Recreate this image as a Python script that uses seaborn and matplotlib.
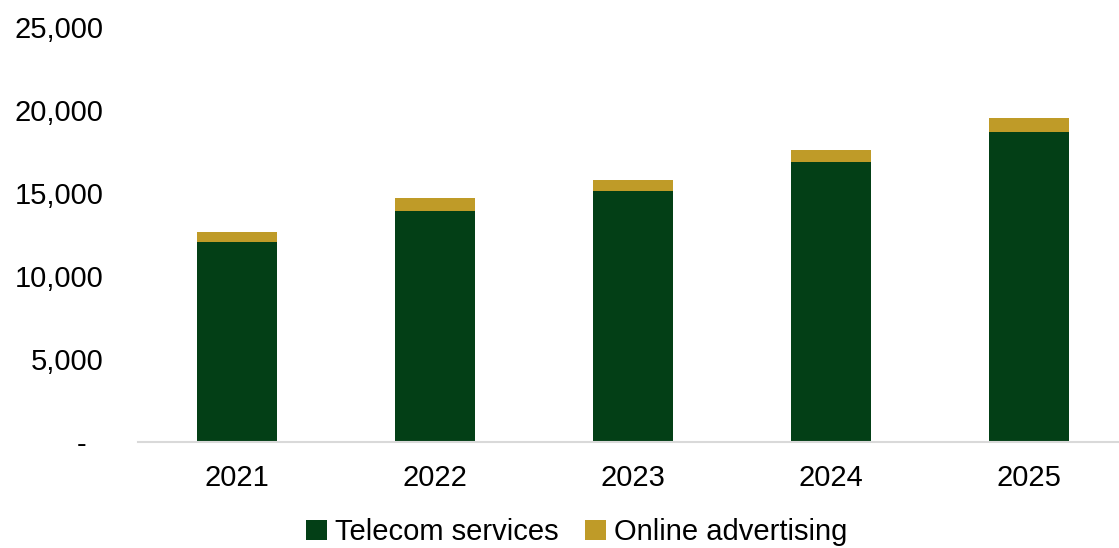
import matplotlib
matplotlib.use("Agg")
import matplotlib.pyplot as plt
from matplotlib.patches import Patch
from matplotlib.ticker import FuncFormatter
import seaborn as sns
import numpy as np

years = ["2021", "2022", "2023", "2024", "2025"]
telecom_services = [12050, 13925, 15150, 16875, 18680]
online_advertising = [600, 765, 625, 705, 810]

GREEN = "#033F16"
GOLD = "#BF9B28"

sns.set_theme(style="white")
plt.rcParams["font.family"] = ["Liberation Sans", "DejaVu Sans"]
plt.rcParams["text.color"] = "#000000"

fig = plt.figure(figsize=(11.19, 5.48), dpi=100)
ax = fig.add_axes([138 / 1119, 106 / 548, 990 / 1119, 415 / 548])

totals = np.array(telecom_services) + np.array(online_advertising)

# stacked columns: total drawn in gold, telecom overlaid in green
sns.barplot(x=years, y=totals, color=GOLD, width=0.405, saturation=1,
            ax=ax, linewidth=0)
sns.barplot(x=years, y=telecom_services, color=GREEN, width=0.405,
            saturation=1, ax=ax, linewidth=0)

ax.set_ylim(0, 25000)
ax.set_xlim(-0.5, 4.5)
ax.set_yticks(range(0, 25001, 5000))


def fmt(v, pos):
    if v == 0:
        return "-  "
    return f"{int(v):,}"


ax.yaxis.set_major_formatter(FuncFormatter(fmt))
ax.tick_params(axis="y", length=0, pad=25, labelsize=21, labelcolor="#000000")
ax.tick_params(axis="x", length=0, pad=16, labelsize=21, labelcolor="#000000")
ax.set_xlabel("")
ax.set_ylabel("")

for s in ["top", "right", "left"]:
    ax.spines[s].set_visible(False)
ax.spines["bottom"].set_color("#D9D9D9")
ax.spines["bottom"].set_linewidth(1.5)

handles = [Patch(facecolor=GREEN, edgecolor="none", label="Telecom services"),
           Patch(facecolor=GOLD, edgecolor="none", label="Online advertising")]
fig.legend(handles=handles, loc="center", bbox_to_anchor=(577 / 1119, 1 - 532 / 548),
           ncol=2, frameon=False, fontsize=21, handlelength=0.7,
           handleheight=0.7, handletextpad=0.3, columnspacing=0.9,
           borderpad=0, labelcolor="#000000")

fig.savefig("out.png", dpi=100)
